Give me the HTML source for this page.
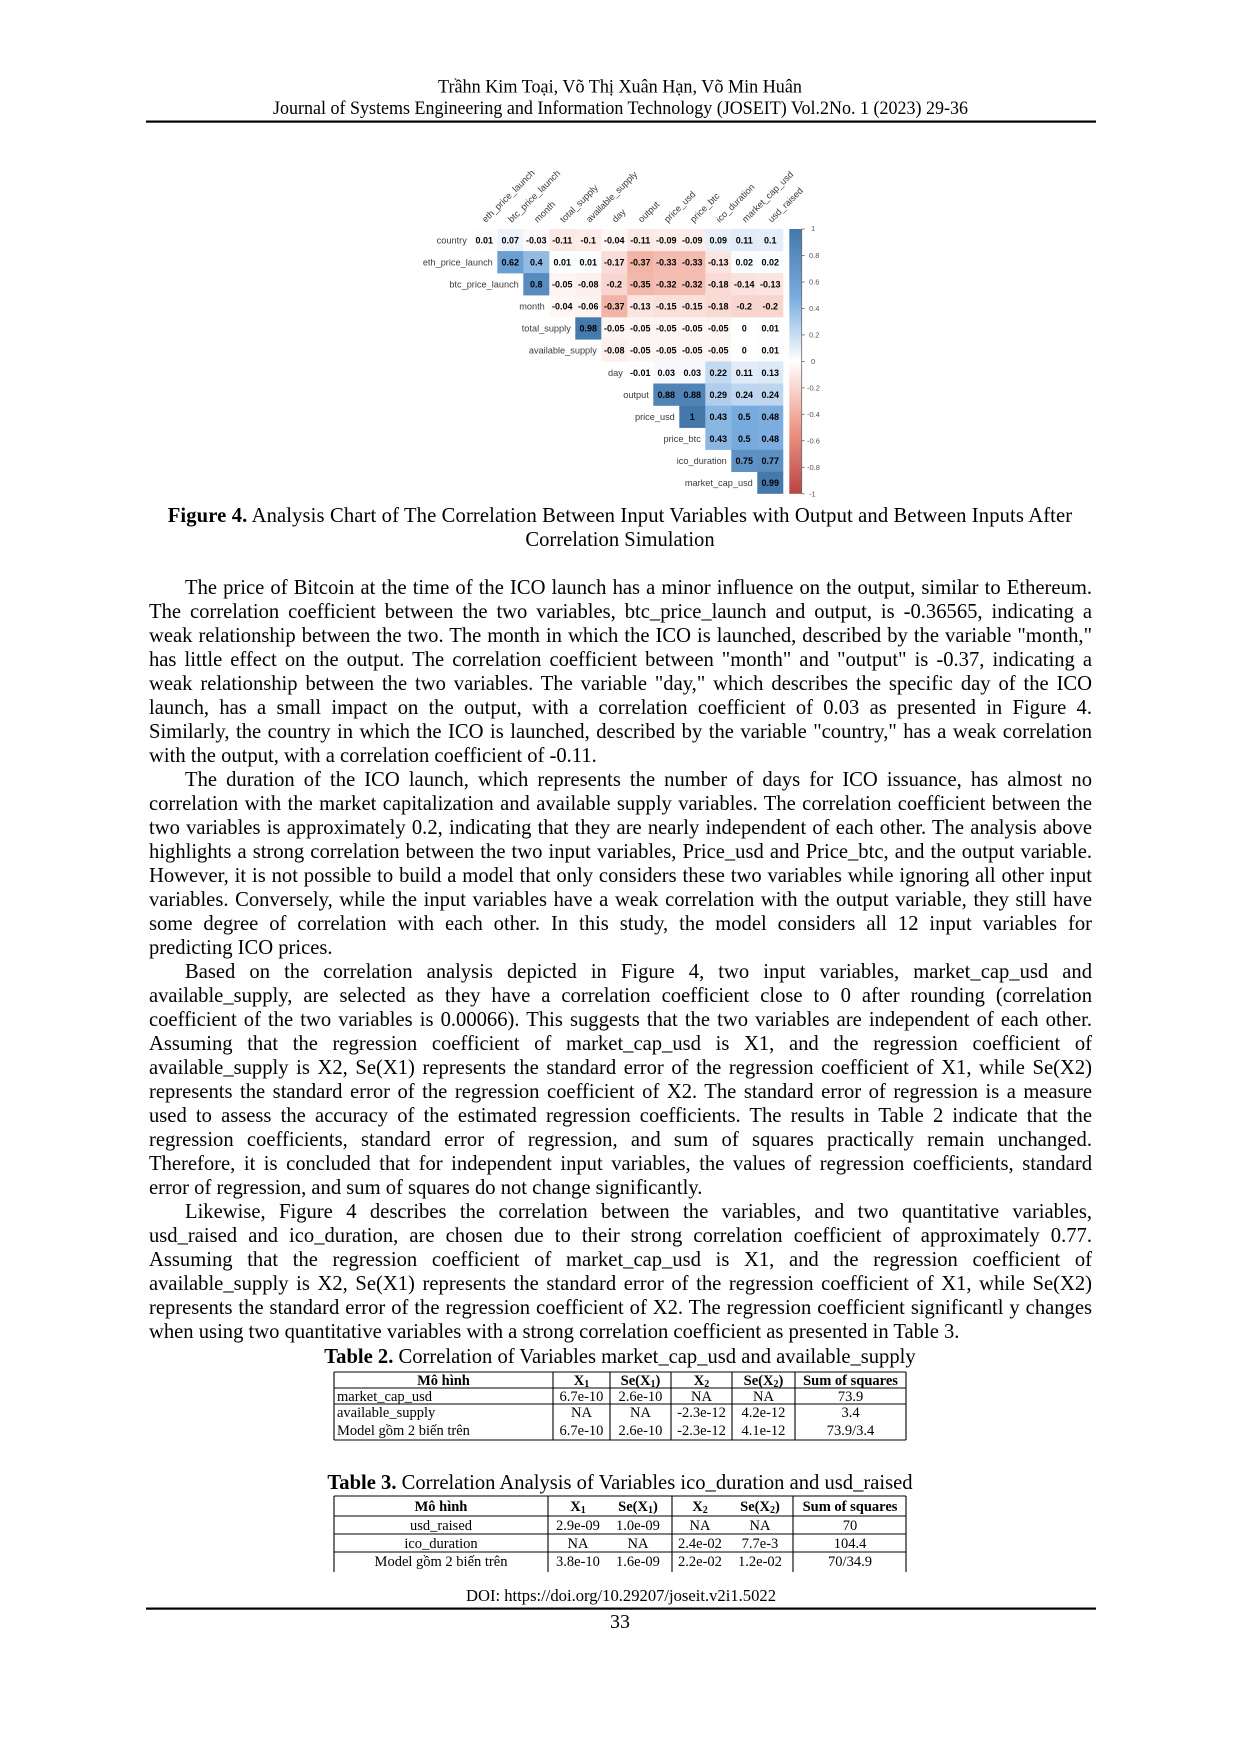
<!DOCTYPE html>
<html><head><meta charset="utf-8">
<style>
html,body{margin:0;padding:0;background:#fff;}
body{width:1240px;height:1754px;position:relative;overflow:hidden;}
.l{position:absolute;left:149px;width:943px;height:24px;line-height:24px;overflow:hidden;
font-family:"Liberation Serif",serif;font-size:20.6px;color:#000;text-align:justify;text-align-last:justify;}
.i{text-indent:36px;}
.e{text-align-last:left;}
.c{position:absolute;left:0;width:1240px;height:24px;line-height:24px;text-align:center;
font-family:"Liberation Serif",serif;font-size:20.6px;color:#000;white-space:nowrap;}
svg{position:absolute;left:0;top:0;}
</style></head><body>
<svg width="1240" height="1754" viewBox="0 0 1240 1754" xmlns="http://www.w3.org/2000/svg">
<defs>
<linearGradient id="cb" x1="0" y1="0" x2="0" y2="1">
<stop offset="0" stop-color="#4477AA"/><stop offset="0.25" stop-color="#77AADD"/>
<stop offset="0.5" stop-color="#FFFFFF"/><stop offset="0.75" stop-color="#EE9988"/>
<stop offset="1" stop-color="#BB4444"/></linearGradient>
</defs>
<!-- header -->
<g font-family="Liberation Serif, serif" fill="#000">
<text x="438" y="92.5" font-size="18.5" textLength="364" lengthAdjust="spacingAndGlyphs">Trầhn Kim Toại, Võ Thị Xuân Hạn, Võ Min Huân</text>
<text x="273" y="114" font-size="18.5" textLength="695" lengthAdjust="spacingAndGlyphs">Journal of Systems Engineering and Information Technology (JOSEIT) Vol.2No. 1 (2023) 29-36</text>
<rect x="146" y="120.5" width="950" height="2.2" fill="#000"/>
<text x="466" y="1601" font-size="16.5" textLength="310" lengthAdjust="spacingAndGlyphs">DOI: https://doi.org/10.29207/joseit.v2i1.5022</text>
<rect x="146" y="1607.5" width="950" height="2.2" fill="#000"/>
<text x="620" y="1628" font-size="20" text-anchor="middle">33</text>
</g>

<!-- heatmap -->
<g font-family="Liberation Sans, sans-serif" font-size="9.2">
<g fill="#3a3a3a">
<text transform="translate(485.8,223) rotate(-45)">eth_price_launch</text>
<text transform="translate(511.8,223) rotate(-45)">btc_price_launch</text>
<text transform="translate(537.8,223) rotate(-45)">month</text>
<text transform="translate(563.8,223) rotate(-45)">total_supply</text>
<text transform="translate(589.8,223) rotate(-45)">available_supply</text>
<text transform="translate(615.8,223) rotate(-45)">day</text>
<text transform="translate(641.8,223) rotate(-45)">output</text>
<text transform="translate(667.8,223) rotate(-45)">price_usd</text>
<text transform="translate(693.8,223) rotate(-45)">price_btc</text>
<text transform="translate(719.8,223) rotate(-45)">ico_duration</text>
<text transform="translate(745.8,223) rotate(-45)">market_cap_usd</text>
<text transform="translate(771.8,223) rotate(-45)">usd_raised</text>
</g>
<g fill="#3a3a3a" text-anchor="end">
<text x="466.8" y="243.3">country</text>
<text x="492.8" y="265.4">eth_price_launch</text>
<text x="518.8" y="287.5">btc_price_launch</text>
<text x="544.8" y="309.5">month</text>
<text x="570.8" y="331.6">total_supply</text>
<text x="596.8" y="353.7">available_supply</text>
<text x="622.8" y="375.8">day</text>
<text x="648.8" y="397.8">output</text>
<text x="674.8" y="419.9">price_usd</text>
<text x="700.8" y="442">price_btc</text>
<text x="726.8" y="464">ico_duration</text>
<text x="752.8" y="486.1">market_cap_usd</text>
</g>
<!-- row 1 -->
<g transform="translate(0,229)">
<rect x="471.3" y="0" width="26.2" height="22.3" fill="#FCFDFE"/>
<rect x="497.3" y="0" width="26.2" height="22.3" fill="#ECF3FA"/>
<rect x="523.3" y="0" width="26.2" height="22.3" fill="#FEF9F8"/>
<rect x="549.3" y="0" width="26.2" height="22.3" fill="#FBE9E5"/>
<rect x="575.3" y="0" width="26.2" height="22.3" fill="#FCEBE7"/>
<rect x="601.3" y="0" width="26.2" height="22.3" fill="#FEF7F6"/>
<rect x="627.3" y="0" width="26.2" height="22.3" fill="#FBE9E5"/>
<rect x="653.3" y="0" width="26.2" height="22.3" fill="#FCEDEA"/>
<rect x="679.3" y="0" width="26.2" height="22.3" fill="#FCEDEA"/>
<rect x="705.3" y="0" width="26.2" height="22.3" fill="#E7F0F9"/>
<rect x="731.3" y="0" width="26.2" height="22.3" fill="#E1ECF8"/>
<rect x="757.3" y="0" width="26" height="22.3" fill="#E4EEF8"/>
</g>
<!-- row 2 -->
<g transform="translate(0,251.1)">
<rect x="497.3" y="0" width="26.2" height="22.3" fill="#6B9ED1"/>
<rect x="523.3" y="0" width="26.2" height="22.3" fill="#92BBE4"/>
<rect x="549.3" y="0" width="26.2" height="22.3" fill="#FCFDFE"/>
<rect x="575.3" y="0" width="26.2" height="22.3" fill="#FCFDFE"/>
<rect x="601.3" y="0" width="26.2" height="22.3" fill="#F9DCD7"/>
<rect x="627.3" y="0" width="26.2" height="22.3" fill="#F2B4A7"/>
<rect x="653.3" y="0" width="26.2" height="22.3" fill="#F4BCB1"/>
<rect x="679.3" y="0" width="26.2" height="22.3" fill="#F4BCB1"/>
<rect x="705.3" y="0" width="26.2" height="22.3" fill="#FBE5E0"/>
<rect x="731.3" y="0" width="26.2" height="22.3" fill="#FAFCFE"/>
<rect x="757.3" y="0" width="26" height="22.3" fill="#FAFCFE"/>
</g>
<!-- row 3 -->
<g transform="translate(0,273.1)">
<rect x="523.3" y="0" width="26.2" height="22.3" fill="#588BBE"/>
<rect x="549.3" y="0" width="26.2" height="22.3" fill="#FDF5F3"/>
<rect x="575.3" y="0" width="26.2" height="22.3" fill="#FCEFEC"/>
<rect x="601.3" y="0" width="26.2" height="22.3" fill="#F8D6CF"/>
<rect x="627.3" y="0" width="26.2" height="22.3" fill="#F3B8AC"/>
<rect x="653.3" y="0" width="26.2" height="22.3" fill="#F4BEB3"/>
<rect x="679.3" y="0" width="26.2" height="22.3" fill="#F4BEB3"/>
<rect x="705.3" y="0" width="26.2" height="22.3" fill="#F9DAD4"/>
<rect x="731.3" y="0" width="26.2" height="22.3" fill="#FAE2DE"/>
<rect x="757.3" y="0" width="26" height="22.3" fill="#FBE5E0"/>
</g>
<!-- row 4 -->
<g transform="translate(0,295.2)">
<rect x="549.3" y="0" width="26.2" height="22.3" fill="#FEF7F6"/>
<rect x="575.3" y="0" width="26.2" height="22.3" fill="#FDF3F1"/>
<rect x="601.3" y="0" width="26.2" height="22.3" fill="#F2B4A7"/>
<rect x="627.3" y="0" width="26.2" height="22.3" fill="#FBE5E0"/>
<rect x="653.3" y="0" width="26.2" height="22.3" fill="#FAE0DB"/>
<rect x="679.3" y="0" width="26.2" height="22.3" fill="#FAE0DB"/>
<rect x="705.3" y="0" width="26.2" height="22.3" fill="#F9DAD4"/>
<rect x="731.3" y="0" width="26.2" height="22.3" fill="#F8D6CF"/>
<rect x="757.3" y="0" width="26" height="22.3" fill="#F8D6CF"/>
</g>
<!-- row 5 -->
<g transform="translate(0,317.3)">
<rect x="575.3" y="0" width="26.2" height="22.3" fill="#4679AC"/>
<rect x="601.3" y="0" width="26.2" height="22.3" fill="#FDF5F3"/>
<rect x="627.3" y="0" width="26.2" height="22.3" fill="#FDF5F3"/>
<rect x="653.3" y="0" width="26.2" height="22.3" fill="#FDF5F3"/>
<rect x="679.3" y="0" width="26.2" height="22.3" fill="#FDF5F3"/>
<rect x="705.3" y="0" width="26.2" height="22.3" fill="#FDF5F3"/>
<rect x="731.3" y="0" width="26.2" height="22.3" fill="#FFFFFF"/>
<rect x="757.3" y="0" width="26" height="22.3" fill="#FCFDFE"/>
</g>
<!-- row 6 -->
<g transform="translate(0,339.4)">
<rect x="601.3" y="0" width="26.2" height="22.3" fill="#FCEFEC"/>
<rect x="627.3" y="0" width="26.2" height="22.3" fill="#FDF5F3"/>
<rect x="653.3" y="0" width="26.2" height="22.3" fill="#FDF5F3"/>
<rect x="679.3" y="0" width="26.2" height="22.3" fill="#FDF5F3"/>
<rect x="705.3" y="0" width="26.2" height="22.3" fill="#FDF5F3"/>
<rect x="731.3" y="0" width="26.2" height="22.3" fill="#FFFFFF"/>
<rect x="757.3" y="0" width="26" height="22.3" fill="#FCFDFE"/>
</g>
<!-- row 7 -->
<g transform="translate(0,361.4)">
<rect x="627.3" y="0" width="26.2" height="22.3" fill="#FFFDFD"/>
<rect x="653.3" y="0" width="26.2" height="22.3" fill="#F7FAFD"/>
<rect x="679.3" y="0" width="26.2" height="22.3" fill="#F7FAFD"/>
<rect x="705.3" y="0" width="26.2" height="22.3" fill="#C3DAF0"/>
<rect x="731.3" y="0" width="26.2" height="22.3" fill="#E1ECF8"/>
<rect x="757.3" y="0" width="26" height="22.3" fill="#DCE9F6"/>
</g>
<!-- row 8 -->
<g transform="translate(0,383.5)">
<rect x="653.3" y="0" width="26.2" height="22.3" fill="#5083B6"/>
<rect x="679.3" y="0" width="26.2" height="22.3" fill="#5083B6"/>
<rect x="705.3" y="0" width="26.2" height="22.3" fill="#B0CEEB"/>
<rect x="731.3" y="0" width="26.2" height="22.3" fill="#BED6EF"/>
<rect x="757.3" y="0" width="26" height="22.3" fill="#BED6EF"/>
</g>
<!-- row 9 -->
<g transform="translate(0,405.6)">
<rect x="679.3" y="0" width="26.2" height="22.3" fill="#4477AA"/>
<rect x="705.3" y="0" width="26.2" height="22.3" fill="#8AB6E2"/>
<rect x="731.3" y="0" width="26.2" height="22.3" fill="#77AADD"/>
<rect x="757.3" y="0" width="26" height="22.3" fill="#7CADDE"/>
</g>
<!-- row 10 -->
<g transform="translate(0,427.6)">
<rect x="705.3" y="0" width="26.2" height="22.3" fill="#8AB6E2"/>
<rect x="731.3" y="0" width="26.2" height="22.3" fill="#77AADD"/>
<rect x="757.3" y="0" width="26" height="22.3" fill="#7CADDE"/>
</g>
<!-- row 11 -->
<g transform="translate(0,449.7)">
<rect x="731.3" y="0" width="26.2" height="22.3" fill="#5E91C4"/>
<rect x="757.3" y="0" width="26" height="22.3" fill="#5C8FC2"/>
</g>
<!-- row 12 -->
<g transform="translate(0,471.8)">
<rect x="757.3" y="0" width="26" height="22" fill="#4578AB"/>
</g>

<!-- coefficients -->
<g fill="#000" font-weight="bold" text-anchor="middle" font-size="9">
<text y="243.3"><tspan x="484.3">0.01</tspan><tspan x="510.3">0.07</tspan><tspan x="536.3">-0.03</tspan><tspan x="562.3">-0.11</tspan><tspan x="588.3">-0.1</tspan><tspan x="614.3">-0.04</tspan><tspan x="640.3">-0.11</tspan><tspan x="666.3">-0.09</tspan><tspan x="692.3">-0.09</tspan><tspan x="718.3">0.09</tspan><tspan x="744.3">0.11</tspan><tspan x="770.3">0.1</tspan></text>
<text y="265.4"><tspan x="510.3">0.62</tspan><tspan x="536.3">0.4</tspan><tspan x="562.3">0.01</tspan><tspan x="588.3">0.01</tspan><tspan x="614.3">-0.17</tspan><tspan x="640.3">-0.37</tspan><tspan x="666.3">-0.33</tspan><tspan x="692.3">-0.33</tspan><tspan x="718.3">-0.13</tspan><tspan x="744.3">0.02</tspan><tspan x="770.3">0.02</tspan></text>
<text y="287.5"><tspan x="536.3">0.8</tspan><tspan x="562.3">-0.05</tspan><tspan x="588.3">-0.08</tspan><tspan x="614.3">-0.2</tspan><tspan x="640.3">-0.35</tspan><tspan x="666.3">-0.32</tspan><tspan x="692.3">-0.32</tspan><tspan x="718.3">-0.18</tspan><tspan x="744.3">-0.14</tspan><tspan x="770.3">-0.13</tspan></text>
<text y="309.5"><tspan x="562.3">-0.04</tspan><tspan x="588.3">-0.06</tspan><tspan x="614.3">-0.37</tspan><tspan x="640.3">-0.13</tspan><tspan x="666.3">-0.15</tspan><tspan x="692.3">-0.15</tspan><tspan x="718.3">-0.18</tspan><tspan x="744.3">-0.2</tspan><tspan x="770.3">-0.2</tspan></text>
<text y="331.6"><tspan x="588.3">0.98</tspan><tspan x="614.3">-0.05</tspan><tspan x="640.3">-0.05</tspan><tspan x="666.3">-0.05</tspan><tspan x="692.3">-0.05</tspan><tspan x="718.3">-0.05</tspan><tspan x="744.3">0</tspan><tspan x="770.3">0.01</tspan></text>
<text y="353.7"><tspan x="614.3">-0.08</tspan><tspan x="640.3">-0.05</tspan><tspan x="666.3">-0.05</tspan><tspan x="692.3">-0.05</tspan><tspan x="718.3">-0.05</tspan><tspan x="744.3">0</tspan><tspan x="770.3">0.01</tspan></text>
<text y="375.8"><tspan x="640.3">-0.01</tspan><tspan x="666.3">0.03</tspan><tspan x="692.3">0.03</tspan><tspan x="718.3">0.22</tspan><tspan x="744.3">0.11</tspan><tspan x="770.3">0.13</tspan></text>
<text y="397.8"><tspan x="666.3">0.88</tspan><tspan x="692.3">0.88</tspan><tspan x="718.3">0.29</tspan><tspan x="744.3">0.24</tspan><tspan x="770.3">0.24</tspan></text>
<text y="419.9"><tspan x="692.3">1</tspan><tspan x="718.3">0.43</tspan><tspan x="744.3">0.5</tspan><tspan x="770.3">0.48</tspan></text>
<text y="442"><tspan x="718.3">0.43</tspan><tspan x="744.3">0.5</tspan><tspan x="770.3">0.48</tspan></text>
<text y="464"><tspan x="744.3">0.75</tspan><tspan x="770.3">0.77</tspan></text>
<text y="486.1"><tspan x="770.3">0.99</tspan></text>
</g>

<!-- colorbar -->
<rect x="789.3" y="229" width="12.4" height="264.8" fill="url(#cb)"/>
<g stroke="#666" stroke-width="0.8">
<line x1="801.7" y1="229" x2="801.7" y2="493.8"/>
<line x1="801.7" y1="229" x2="804.7" y2="229"/>
<line x1="801.7" y1="255.5" x2="804.7" y2="255.5"/>
<line x1="801.7" y1="282" x2="804.7" y2="282"/>
<line x1="801.7" y1="308.4" x2="804.7" y2="308.4"/>
<line x1="801.7" y1="334.9" x2="804.7" y2="334.9"/>
<line x1="801.7" y1="361.4" x2="804.7" y2="361.4"/>
<line x1="801.7" y1="387.9" x2="804.7" y2="387.9"/>
<line x1="801.7" y1="414.3" x2="804.7" y2="414.3"/>
<line x1="801.7" y1="440.8" x2="804.7" y2="440.8"/>
<line x1="801.7" y1="467.3" x2="804.7" y2="467.3"/>
<line x1="801.7" y1="493.8" x2="804.7" y2="493.8"/>
</g>
<g fill="#555" font-size="7.5">
<text x="811" y="231">1</text>
<text x="809" y="258">0.8</text>
<text x="809" y="284.5">0.6</text>
<text x="809" y="311">0.4</text>
<text x="809" y="337.4">0.2</text>
<text x="811" y="363.9">0</text>
<text x="807" y="390.4">-0.2</text>
<text x="807" y="416.8">-0.4</text>
<text x="807" y="443.3">-0.6</text>
<text x="807" y="469.8">-0.8</text>
<text x="809" y="496.3">-1</text>
</g>
</g>

<!-- Table 2 -->
<g font-family="Liberation Serif, serif" font-size="14.5" fill="#000">
<g stroke="#000" stroke-width="1.1" fill="none">
<line x1="334" y1="1372" x2="906" y2="1372"/>
<line x1="334" y1="1388" x2="906" y2="1388"/>
<line x1="334" y1="1404" x2="906" y2="1404"/>
<line x1="334" y1="1440" x2="906" y2="1440"/>
<line x1="334" y1="1372" x2="334" y2="1440"/>
<line x1="553" y1="1372" x2="553" y2="1440"/>
<line x1="610" y1="1372" x2="610" y2="1440"/>
<line x1="671" y1="1372" x2="671" y2="1440"/>
<line x1="732" y1="1372" x2="732" y2="1440"/>
<line x1="795" y1="1372" x2="795" y2="1440"/>
<line x1="906" y1="1372" x2="906" y2="1440"/>
</g>
<g font-weight="bold" text-anchor="middle">
<text x="443.5" y="1385">Mô hình</text>
<text x="581.5" y="1385">X<tspan font-size="10" dy="2">1</tspan></text>
<text x="640.5" y="1385">Se(X<tspan font-size="10" dy="2">1</tspan><tspan dy="-2">)</tspan></text>
<text x="701.5" y="1385">X<tspan font-size="10" dy="2">2</tspan></text>
<text x="763.5" y="1385">Se(X<tspan font-size="10" dy="2">2</tspan><tspan dy="-2">)</tspan></text>
<text x="850.5" y="1385">Sum of squares</text>
</g>
<text x="337" y="1401">market_cap_usd</text>
<text x="337" y="1417">available_supply</text>
<text x="337" y="1435">Model gồm 2 biến trên</text>
<g text-anchor="middle">
<text y="1401"><tspan x="581.5">6.7e-10</tspan><tspan x="640.5">2.6e-10</tspan><tspan x="701.5">NA</tspan><tspan x="763.5">NA</tspan><tspan x="850.5">73.9</tspan></text>
<text y="1417"><tspan x="581.5">NA</tspan><tspan x="640.5">NA</tspan><tspan x="701.5">-2.3e-12</tspan><tspan x="763.5">4.2e-12</tspan><tspan x="850.5">3.4</tspan></text>
<text y="1435"><tspan x="581.5">6.7e-10</tspan><tspan x="640.5">2.6e-10</tspan><tspan x="701.5">-2.3e-12</tspan><tspan x="763.5">4.1e-12</tspan><tspan x="850.5">73.9/3.4</tspan></text>
</g>
</g>

<!-- Table 3 -->
<g font-family="Liberation Serif, serif" font-size="14.5" fill="#000">
<g stroke="#000" stroke-width="1.1" fill="none">
<line x1="334" y1="1496" x2="906" y2="1496"/>
<line x1="334" y1="1516" x2="906" y2="1516"/>
<line x1="334" y1="1534" x2="906" y2="1534"/>
<line x1="334" y1="1552" x2="906" y2="1552"/>
<line x1="334" y1="1496" x2="334" y2="1572"/>
<line x1="548" y1="1496" x2="548" y2="1572"/>
<line x1="672" y1="1496" x2="672" y2="1572"/>
<line x1="793" y1="1496" x2="793" y2="1572"/>
<line x1="906" y1="1496" x2="906" y2="1572"/>
</g>
<g font-weight="bold" text-anchor="middle">
<text x="441" y="1511">Mô hình</text>
<text x="578" y="1511">X<tspan font-size="10" dy="2">1</tspan></text>
<text x="638" y="1511">Se(X<tspan font-size="10" dy="2">1</tspan><tspan dy="-2">)</tspan></text>
<text x="700" y="1511">X<tspan font-size="10" dy="2">2</tspan></text>
<text x="760" y="1511">Se(X<tspan font-size="10" dy="2">2</tspan><tspan dy="-2">)</tspan></text>
<text x="850" y="1511">Sum of squares</text>
</g>
<g text-anchor="middle">
<text y="1530"><tspan x="441">usd_raised</tspan><tspan x="578">2.9e-09</tspan><tspan x="638">1.0e-09</tspan><tspan x="700">NA</tspan><tspan x="760">NA</tspan><tspan x="850">70</tspan></text>
<text y="1548"><tspan x="441">ico_duration</tspan><tspan x="578">NA</tspan><tspan x="638">NA</tspan><tspan x="700">2.4e-02</tspan><tspan x="760">7.7e-3</tspan><tspan x="850">104.4</tspan></text>
<text y="1566"><tspan x="441">Model gồm 2 biến trên</tspan><tspan x="578">3.8e-10</tspan><tspan x="638">1.6e-09</tspan><tspan x="700">2.2e-02</tspan><tspan x="760">1.2e-02</tspan><tspan x="850">70/34.9</tspan></text>
</g>
</g>
</svg>

<div class="c" style="top:504px;letter-spacing:0.13px"><b>Figure 4.</b> Analysis Chart of The Correlation Between Input Variables with Output and Between Inputs After</div>
<div class="c" style="top:528px">Correlation Simulation</div>

<div class="l i" style="top:576px">The price of Bitcoin at the time of the ICO launch has a minor influence on the output, similar to Ethereum.</div>
<div class="l" style="top:600px">The correlation coefficient between the two variables, btc_price_launch and output, is -0.36565, indicating a</div>
<div class="l" style="top:624px">weak relationship between the two. The month in which the ICO is launched, described by the variable "month,"</div>
<div class="l" style="top:648px">has little effect on the output. The correlation coefficient between "month" and "output" is -0.37, indicating a</div>
<div class="l" style="top:672px">weak relationship between the two variables. The variable "day," which describes the specific day of the ICO</div>
<div class="l" style="top:696px">launch, has a small impact on the output, with a correlation coefficient of 0.03 as presented in Figure 4.</div>
<div class="l" style="top:720px">Similarly, the country in which the ICO is launched, described by the variable "country," has a weak correlation</div>
<div class="l e" style="top:744px">with the output, with a correlation coefficient of -0.11.</div>
<div class="l i" style="top:768px">The duration of the ICO launch, which represents the number of days for ICO issuance, has almost no</div>
<div class="l" style="top:792px">correlation with the market capitalization and available supply variables. The correlation coefficient between the</div>
<div class="l" style="top:816px">two variables is approximately 0.2, indicating that they are nearly independent of each other. The analysis above</div>
<div class="l" style="top:840px">highlights a strong correlation between the two input variables, Price_usd and Price_btc, and the output variable.</div>
<div class="l" style="top:864px">However, it is not possible to build a model that only considers these two variables while ignoring all other input</div>
<div class="l" style="top:888px">variables. Conversely, while the input variables have a weak correlation with the output variable, they still have</div>
<div class="l" style="top:912px">some degree of correlation with each other. In this study, the model considers all 12 input variables for</div>
<div class="l e" style="top:936px">predicting ICO prices.</div>
<div class="l i" style="top:960px">Based on the correlation analysis depicted in Figure 4, two input variables, market_cap_usd and</div>
<div class="l" style="top:984px">available_supply, are selected as they have a correlation coefficient close to 0 after rounding (correlation</div>
<div class="l" style="top:1008px">coefficient of the two variables is 0.00066). This suggests that the two variables are independent of each other.</div>
<div class="l" style="top:1032px">Assuming that the regression coefficient of market_cap_usd is X1, and the regression coefficient of</div>
<div class="l" style="top:1056px">available_supply is X2, Se(X1) represents the standard error of the regression coefficient of X1, while Se(X2)</div>
<div class="l" style="top:1080px">represents the standard error of the regression coefficient of X2. The standard error of regression is a measure</div>
<div class="l" style="top:1104px">used to assess the accuracy of the estimated regression coefficients. The results in Table 2 indicate that the</div>
<div class="l" style="top:1128px">regression coefficients, standard error of regression, and sum of squares practically remain unchanged.</div>
<div class="l" style="top:1152px">Therefore, it is concluded that for independent input variables, the values of regression coefficients, standard</div>
<div class="l e" style="top:1176px">error of regression, and sum of squares do not change significantly.</div>
<div class="l i" style="top:1200px">Likewise, Figure 4 describes the correlation between the variables, and two quantitative variables,</div>
<div class="l" style="top:1224px">usd_raised and ico_duration, are chosen due to their strong correlation coefficient of approximately 0.77.</div>
<div class="l" style="top:1248px">Assuming that the regression coefficient of market_cap_usd is X1, and the regression coefficient of</div>
<div class="l" style="top:1272px">available_supply is X2, Se(X1) represents the standard error of the regression coefficient of X1, while Se(X2)</div>
<div class="l" style="top:1296px">represents the standard error of the regression coefficient of X2. The regression coefficient significantl y changes</div>
<div class="l e" style="top:1320px">when using two quantitative variables with a strong correlation coefficient as presented in Table 3.</div>

<div class="c" style="top:1345px"><b>Table 2.</b> Correlation of Variables market_cap_usd and available_supply</div>
<div class="c" style="top:1471px"><b>Table 3.</b> Correlation Analysis of Variables ico_duration and usd_raised</div>
</body></html>
